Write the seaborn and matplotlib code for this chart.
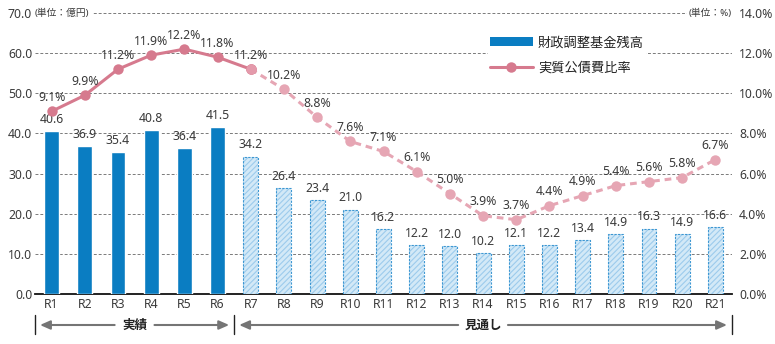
import matplotlib
matplotlib.use("Agg")
import matplotlib.pyplot as plt
import matplotlib.transforms as mtransforms
from matplotlib.patches import Patch
from matplotlib.lines import Line2D
import seaborn as sns
import pandas as pd

# Fiscal years, fund balance (億円) and real debt-service ratio (%)
years = ["R1", "R2", "R3", "R4", "R5", "R6", "R7", "R8", "R9", "R10", "R11",
         "R12", "R13", "R14", "R15", "R16", "R17", "R18", "R19", "R20", "R21"]
fund_balance = [40.6, 36.9, 35.4, 40.8, 36.4, 41.5, 34.2, 26.4, 23.4, 21.0, 16.2,
                12.2, 12.0, 10.2, 12.1, 12.2, 13.4, 14.9, 16.3, 14.9, 16.6]
debt_ratio = [9.1, 9.9, 11.2, 11.9, 12.2, 11.8, 11.2, 10.2, 8.8, 7.6, 7.1,
              6.1, 5.0, 3.9, 3.7, 4.4, 4.9, 5.4, 5.6, 5.8, 6.7]
n_actual = 6  # R1..R6 are results, R7 onward are projections

left_ticks = [0, 10, 20, 30, 40, 50, 60, 70]
right_ticks = [0, 2, 4, 6, 8, 10, 12, 14]

sns.set_theme(style="white")
plt.rcParams["font.family"] = ["Noto Sans", "Noto Sans CJK JP", "DejaVu Sans"]
plt.rcParams["hatch.linewidth"] = 0.8

BLUE = "#0a7dc2"
BLUE_LIGHT = "#d3e9f7"
BLUE_EDGE = "#3d97d2"
PINK = "#d67a8e"
PINK_LIGHT = "#e6a6b4"
TXT = "#3a3a3a"
VAL_FS = 8.8
TICK_FS = 8.8

fig = plt.figure(figsize=(7.75, 3.44), dpi=100)
ax = fig.add_axes([35 / 775, 1 - 294 / 344, 697 / 775, 281 / 344])

df = pd.DataFrame({"year": years, "balance": fund_balance})
sns.barplot(data=df, x="year", y="balance", color=BLUE, width=0.45,
            saturation=1, ax=ax, zorder=3)

for i, p in enumerate(ax.patches):
    if i >= n_actual:
        p.set_facecolor(BLUE_LIGHT)
        p.set_edgecolor("#9ccbec")
        p.set_hatch("//////")
        p.set_linewidth(0)
        # dashed outline drawn on top
        ax.add_patch(plt.Rectangle(p.get_xy(), p.get_width(), p.get_height(),
                                   fill=False, edgecolor=BLUE_EDGE, lw=0.8,
                                   ls=(0, (2, 1.2)), zorder=4))
    ax.text(p.get_x() + p.get_width() / 2, fund_balance[i] + 1.3,
            f"{fund_balance[i]:.1f}", ha="center", va="bottom",
            fontsize=VAL_FS, color=TXT, zorder=6)

ax.set_xlim(-0.5, len(years) - 0.5)
ax.set_ylim(0, 70)
ax.set_yticks(left_ticks)
ax.set_yticklabels([f"{v:.1f}" for v in left_ticks])
ax.set_xlabel("")
ax.set_ylabel("")
for y in left_ticks[1:]:
    ax.axhline(y, color="#7a7a7a", lw=0.7, ls=(0, (3, 2)), zorder=1)
for s in ["top", "right", "left"]:
    ax.spines[s].set_visible(False)
ax.spines["bottom"].set_color("#111111")
ax.spines["bottom"].set_linewidth(1.3)
ax.tick_params(axis="both", length=0, labelsize=TICK_FS, colors=TXT, pad=3)
ax.tick_params(axis="y", pad=2)

ax.text(0.0, 70, "(単位：億円)",
        transform=mtransforms.blended_transform_factory(ax.transAxes, ax.transData),
        ha="left", va="center", fontsize=7, color=TXT, zorder=7,
        bbox=dict(facecolor="white", edgecolor="none", pad=1.5))

# Debt-service ratio on the right axis
ax2 = ax.twinx()
ax2.set_position(ax.get_position())
xs = list(range(len(years)))
line_df = pd.DataFrame({"x": xs, "ratio": debt_ratio})
sns.lineplot(data=line_df.iloc[n_actual:], x="x", y="ratio", ax=ax2, color=PINK_LIGHT,
             lw=2.2, linestyle=(0, (2.2, 1.6)), marker="o", markersize=7.5,
             markeredgewidth=0, zorder=5)
sns.lineplot(data=line_df.iloc[:n_actual + 1], x="x", y="ratio", ax=ax2, color=PINK,
             lw=2.2, marker="o", markersize=7.5, markeredgewidth=0, zorder=6)
ax2.plot([n_actual], [debt_ratio[n_actual]], "o", color="#e49aab", ms=7.5, mew=0, zorder=7)
for x, v in zip(xs, debt_ratio):
    ax2.text(x, v + 0.38, f"{v:.1f}%", ha="center", va="bottom", fontsize=VAL_FS,
             color=TXT, zorder=8)
ax2.set_ylim(0, 14)
ax2.set_yticks(right_ticks)
ax2.set_yticklabels([f"{v:.1f}%" for v in right_ticks])
ax2.set_xlabel("")
ax2.set_ylabel("")
for s in ax2.spines.values():
    s.set_visible(False)
ax2.tick_params(axis="y", length=0, labelsize=TICK_FS, colors=TXT, pad=5)
ax2.grid(False)
ax2.text(1.0, 14, "(単位：%)",
         transform=mtransforms.blended_transform_factory(ax2.transAxes, ax2.transData),
         ha="right", va="center", fontsize=7, color=TXT, zorder=9,
         bbox=dict(facecolor="white", edgecolor="none", pad=1.5))

# Legend
handles = [Patch(facecolor=BLUE, edgecolor="none"),
           Line2D([0], [0], color=PINK, lw=2.2, marker="o", ms=7.5, mew=0)]
leg = ax2.legend(handles, ["財政調整基金残高", "実質公債費比率"], loc="upper left",
                 bbox_to_anchor=(0.64, 0.95), frameon=True, fontsize=9.5,
                 handlelength=3.2, handleheight=0.6, handletextpad=0.4,
                 labelspacing=0.95, borderpad=0.2)
leg.get_frame().set_facecolor("white")
leg.get_frame().set_edgecolor("none")
leg.get_frame().set_alpha(1)
for t in leg.get_texts():
    t.set_color("#222222")

# Period brackets under the axis
btf = mtransforms.blended_transform_factory(ax.transData, fig.transFigure)
yb = 1 - 325 / 344
for xv in [-0.5, 5.5, 20.5]:
    ax.plot([xv, xv], [1 - 315 / 344, 1 - 334 / 344], color="#222222", lw=1.0,
            transform=btf, clip_on=False)
arrow = dict(arrowstyle="-|>,head_length=0.5,head_width=0.22", color="#757575", lw=1.5,
             shrinkA=0, shrinkB=0)
periods = [("実績", -0.5, 5.5), ("見通し", 5.5, 20.5)]
for label, x0, x1 in periods:
    mid = (x0 + x1) / 2
    half = 0.6 if len(label) == 2 else 0.75
    ax.annotate("", xy=(x0 + 0.15, yb), xytext=(mid - half, yb), xycoords=btf,
                textcoords=btf, arrowprops=arrow, annotation_clip=False)
    ax.annotate("", xy=(x1 - 0.15, yb), xytext=(mid + half, yb), xycoords=btf,
                textcoords=btf, arrowprops=arrow, annotation_clip=False)
    ax.text(mid, yb, label, transform=btf, ha="center", va="center",
            fontsize=9, color="#222222", fontweight="bold")

fig.savefig("out.png", dpi=100)
